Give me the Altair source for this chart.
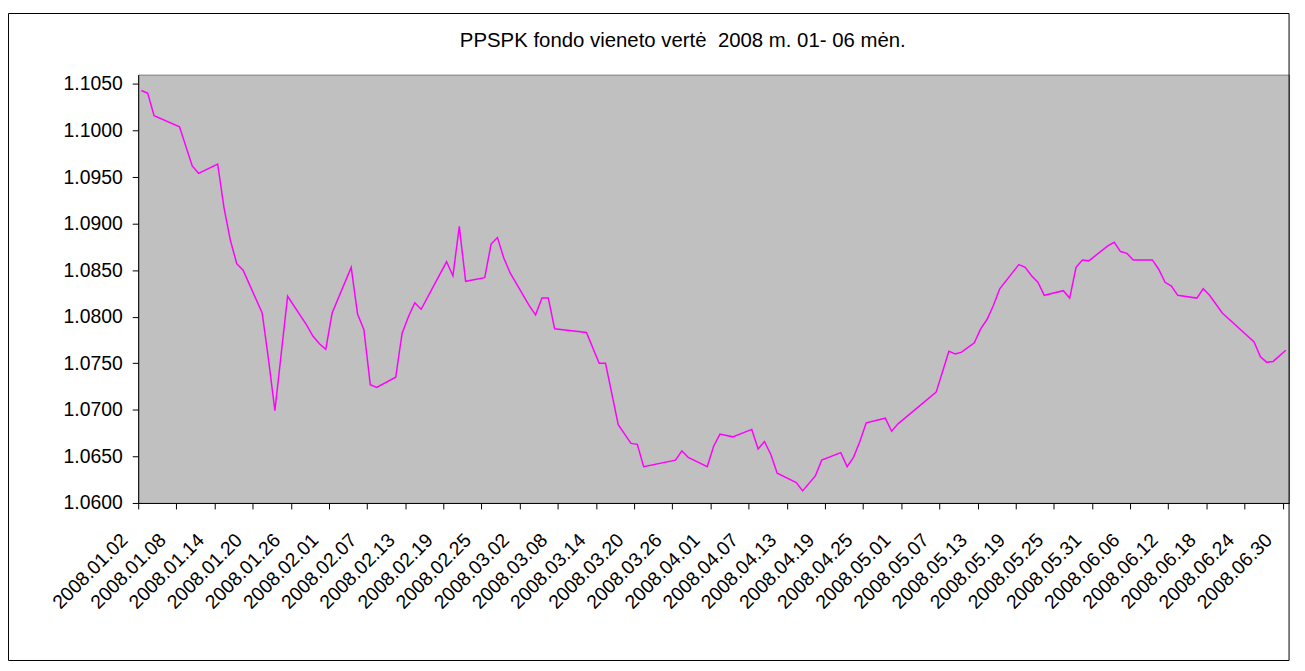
import altair as alt
import pandas as pd

# ---- data ----
dates = [
    "2008-01-02", "2008-01-03", "2008-01-04", "2008-01-08", "2008-01-10", "2008-01-11",
    "2008-01-14", "2008-01-15", "2008-01-16", "2008-01-17", "2008-01-18", "2008-01-21",
    "2008-01-22", "2008-01-23", "2008-01-25", "2008-01-28", "2008-01-29", "2008-01-30",
    "2008-01-31", "2008-02-01", "2008-02-04", "2008-02-05", "2008-02-06", "2008-02-07",
    "2008-02-08", "2008-02-11", "2008-02-12", "2008-02-13", "2008-02-14", "2008-02-15",
    "2008-02-19", "2008-02-20", "2008-02-21", "2008-02-22", "2008-02-25", "2008-02-26",
    "2008-02-27", "2008-02-28", "2008-02-29", "2008-03-03", "2008-03-04", "2008-03-05",
    "2008-03-06", "2008-03-07", "2008-03-12", "2008-03-14", "2008-03-15", "2008-03-17",
    "2008-03-19", "2008-03-20", "2008-03-21", "2008-03-26", "2008-03-27", "2008-03-28",
    "2008-03-31", "2008-04-01", "2008-04-02", "2008-04-04", "2008-04-07", "2008-04-08",
    "2008-04-09", "2008-04-10", "2008-04-11", "2008-04-14", "2008-04-15", "2008-04-17",
    "2008-04-18", "2008-04-21", "2008-04-22", "2008-04-23", "2008-04-24", "2008-04-25",
    "2008-04-28", "2008-04-29", "2008-04-30", "2008-05-06", "2008-05-08", "2008-05-09",
    "2008-05-10", "2008-05-12", "2008-05-13", "2008-05-14", "2008-05-15", "2008-05-16",
    "2008-05-19", "2008-05-20", "2008-05-21", "2008-05-22", "2008-05-23", "2008-05-26",
    "2008-05-27", "2008-05-28", "2008-05-29", "2008-05-30", "2008-06-02", "2008-06-03",
    "2008-06-04", "2008-06-05", "2008-06-06", "2008-06-09", "2008-06-10", "2008-06-11",
    "2008-06-12", "2008-06-13", "2008-06-16", "2008-06-17", "2008-06-18", "2008-06-20",
    "2008-06-25", "2008-06-26", "2008-06-27", "2008-06-28", "2008-06-30",
]
values = [
    1.1043, 1.1040, 1.1016, 1.1004, 1.0962, 1.0954,
    1.0964, 1.0917, 1.0882, 1.0857, 1.0850, 1.0804,
    1.0754, 1.0699, 1.0822, 1.0791, 1.0779, 1.0771,
    1.0765, 1.0804, 1.0853, 1.0803, 1.0786, 1.0727,
    1.0724, 1.0735, 1.0782, 1.0800, 1.0815, 1.0808,
    1.0859, 1.0844, 1.0897, 1.0838, 1.0842, 1.0878,
    1.0885, 1.0863, 1.0847, 1.0812, 1.0802, 1.0820,
    1.0820, 1.0787, 1.0783, 1.0750, 1.0750, 1.0684,
    1.0664, 1.0663, 1.0639, 1.0646, 1.0656, 1.0649,
    1.0639, 1.0661, 1.0674, 1.0671, 1.0679, 1.0658,
    1.0666, 1.0652, 1.0632, 1.0622, 1.0613, 1.0629,
    1.0646, 1.0654, 1.0639, 1.0649, 1.0666, 1.0686,
    1.0691, 1.0677, 1.0685, 1.0719, 1.0763, 1.0760,
    1.0762, 1.0772, 1.0787, 1.0797, 1.0812, 1.0830,
    1.0856, 1.0853, 1.0844, 1.0837, 1.0823, 1.0828,
    1.0820, 1.0853, 1.0861, 1.0860, 1.0876, 1.0880,
    1.0870, 1.0868, 1.0861, 1.0861, 1.0851, 1.0837,
    1.0833, 1.0823, 1.0820, 1.0830, 1.0823, 1.0804,
    1.0773, 1.0757, 1.0751, 1.0752, 1.0764,
]
y_ticks = [1.060, 1.065, 1.070, 1.075, 1.080, 1.085, 1.090, 1.095, 1.100, 1.105]
# the reference title has two spaces before "2008" (a no-break space keeps both)
title_text = "PPSPK fondo vieneto vertė\u00a0 2008 m. 01- 06 mėn."

FONT = "Liberation Sans"

start = pd.Timestamp("2008-01-02")
df = pd.DataFrame({"date": dates, "value": values})
df["day"] = (pd.to_datetime(df["date"]) - start).dt.days

# category slots of one day each; ticks at slot edges every 6 days
x_ticks = [-0.5 + 6 * k for k in range(31)]

W, H = 1158, 431

line = alt.Chart(df).mark_line(color="#FF00FF", strokeWidth=1.5).encode(
    x=alt.X(
        "day:Q",
        scale=alt.Scale(domain=[-0.5, 180.5], nice=False, zero=False),
        axis=alt.Axis(
            values=x_ticks,
            labelExpr="timeFormat(datetime(2008, 0, 2.5 + datum.value), '%Y.%m.%d')",
            labelAngle=315,
            labelAlign="right",
            labelBaseline="middle",
            labelOffset=-14,
            labelPadding=28,
            labelOverlap=False,
            labelBound=False,
            labelFlush=False,
            tickSize=6,
            grid=False,
            title=None,
        ),
    ),
    y=alt.Y(
        "value:Q",
        scale=alt.Scale(domain=[1.06, 1.106], nice=False, zero=False),
        axis=alt.Axis(
            values=y_ticks,
            format=".4f",
            tickSize=6,
            labelPadding=10,
            grid=False,
            title=None,
        ),
    ),
)

one = pd.DataFrame({"f": [0]})

frame = alt.Chart(one).mark_rect(
    filled=False, stroke="black", strokeWidth=1, clip=False
).encode(
    x=alt.value(-130.5), x2=alt.value(W), y=alt.value(-61.5), y2=alt.value(589.5)
)

title = alt.Chart(one).mark_text(
    text=title_text,
    font=FONT,
    fontSize=20.5,
    color="black",
    align="center",
    baseline="alphabetic",
    clip=False,
).encode(x=alt.value(548), y=alt.value(-27.5))

chart = alt.layer(line, frame, title).properties(
    width=W,
    height=H,
    autosize=alt.AutoSizeParams(type="none"),
    padding={"left": 131, "top": 65, "right": 8, "bottom": 160},
).configure(
    background="white",
).configure_view(
    fill="#C0C0C0", stroke="#808080", strokeWidth=1
).configure_axis(
    labelFont=FONT,
    labelFontSize=19.5,
    labelColor="black",
    domainColor="black",
    tickColor="black",
    domainWidth=1,
    tickWidth=1,
)

chart.save("out.html", embed_options={"renderer": "svg", "actions": False})
